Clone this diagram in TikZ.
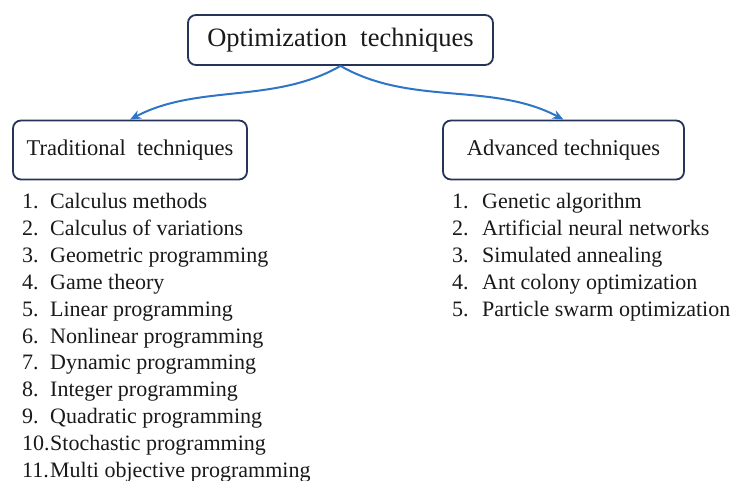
\documentclass[tikz,border=0pt]{standalone}
\usepackage{fontspec}
\setmainfont{Liberation Serif}
\usetikzlibrary{arrows.meta, positioning}

\definecolor{boxline}{RGB}{38,52,88}
\definecolor{arrowblue}{RGB}{46,117,200}
\definecolor{inktext}{RGB}{25,25,25}

\begin{document}
\begin{tikzpicture}[
    x=1pt, y=-1pt,
    box/.style={draw=boxline, line width=1.8pt, rounded corners=8pt, fill=white, text=inktext, inner sep=0pt},
    item/.style={anchor=base west, inner sep=0pt, text=inktext, font=\fontsize{22}{24}\selectfont},
    link/.style={-{Stealth[length=11pt, width=9pt]}, line width=2pt, color=arrowblue}
]
\useasboundingbox (0,0) rectangle (734,481);

% Cajas
\node[box, minimum width=305pt, minimum height=50pt, font=\fontsize{26.5}{30}\selectfont] (opt) at (340.5,40) {Optimization\ \ techniques};
\node[box, minimum width=234pt, minimum height=59pt, font=\fontsize{22.5}{26}\selectfont] (trad) at (130,150) {Traditional\ \ techniques};
\node[box, minimum width=241pt, minimum height=59pt, font=\fontsize{22.5}{26}\selectfont] (adv) at (563.5,150) {Advanced techniques};

% Flechas
\draw[link] (opt.south) to[out=-150, in=28, looseness=0.9] (trad.north);
\draw[link] (opt.south) to[out=-30, in=152, looseness=0.9] (adv.north);

% Listas
\foreach \n/\txt in {1/Calculus methods, 2/Calculus of variations, 3/Geometric programming,
    4/Game theory, 5/Linear programming, 6/Nonlinear programming, 7/Dynamic programming,
    8/Integer programming, 9/Quadratic programming, 10/Stochastic programming,
    11/Multi objective programming}
  \node[item] (t\n) at (22,{209+26.8*(\n-1)}) {\makebox[28pt][l]{\n.}\txt};

\foreach \n/\txt in {1/Genetic algorithm, 2/Artificial neural networks, 3/Simulated annealing,
    4/Ant colony optimization, 5/Particle swarm optimization}
  \node[item] (a\n) at (452,{209+26.8*(\n-1)}) {\makebox[30pt][l]{\n.}\txt};

\end{tikzpicture}
\end{document}
